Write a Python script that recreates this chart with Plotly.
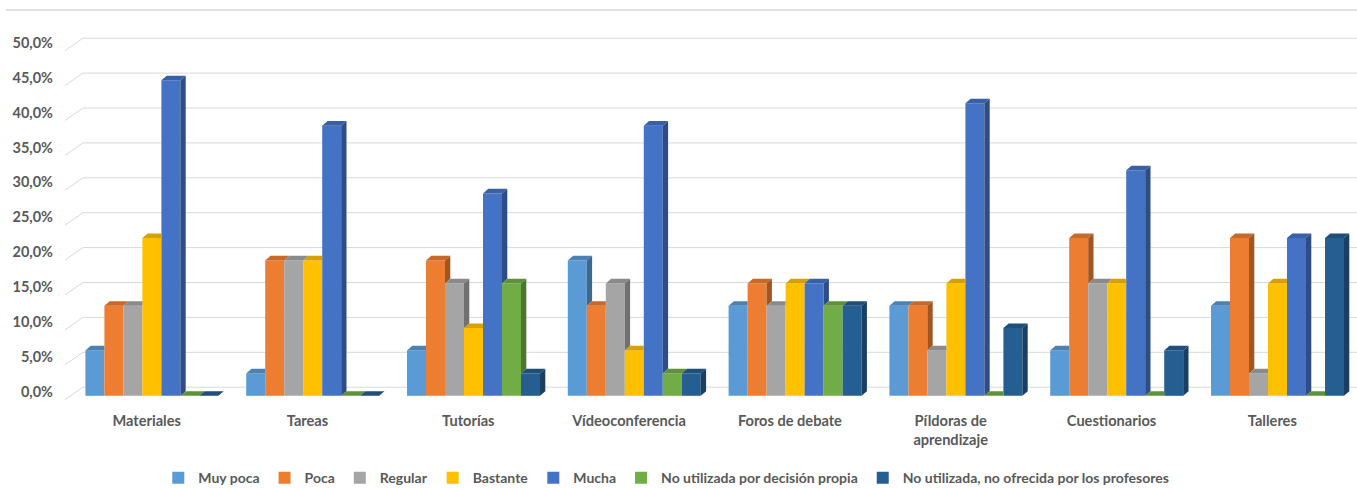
import numpy as np
import plotly.graph_objects as go

# ---- data -------------------------------------------------------------
categories = ["Materiales", "Tareas", "Tutorías", "Vídeoconferencia",
              "Foros de debate", "Píldoras de<br>aprendizaje",
              "Cuestionarios", "Talleres"]

series_names = ["Muy poca", "Poca", "Regular", "Bastante", "Mucha",
                "No utilizada por decisión propia",
                "No utilizada, no ofrecida por los profesores"]

muy_poca  = [6.5, 3.2, 6.5, 19.4, 12.9, 12.9, 6.5, 12.9]
poca      = [12.9, 19.4, 19.4, 12.9, 16.1, 12.9, 22.6, 22.6]
regular   = [12.9, 19.4, 16.1, 16.1, 12.9, 6.5, 16.1, 3.2]
bastante  = [22.6, 19.4, 9.7, 6.5, 16.1, 16.1, 16.1, 16.1]
mucha     = [45.2, 38.7, 29.0, 38.7, 16.1, 41.9, 32.3, 22.6]
no_propia = [0.0, 0.0, 16.1, 3.2, 12.9, 0.0, 0.0, 0.0]
no_ofrec  = [0.0, 0.0, 3.2, 3.2, 12.9, 9.7, 6.5, 22.6]

series_values = [muy_poca, poca, regular, bastante, mucha, no_propia, no_ofrec]

y_ticks = [0, 5, 10, 15, 20, 25, 30, 35, 40, 45, 50]
y_tick_labels = ["0,0%", "5,0%", "10,0%", "15,0%", "20,0%", "25,0%",
                 "30,0%", "35,0%", "40,0%", "45,0%", "50,0%"]

# ---- styling ----------------------------------------------------------
colors = ["#5B9BD5", "#ED7D31", "#A5A5A5", "#FFC000", "#4472C4", "#70AD47", "#255E91"]
FONT = "Lato"
TEXT_COLOR = "#595959"
GRID_COLOR = "#D9D9D9"

W, H = 1357, 488
M_L, M_R, M_T, M_B = 60, 0, 20, 88
SP = 160.8          # pixels per category
PXY = 6.98          # pixels per percentage point
FIRST_CENTER = 146.7
ZERO_PX = 395.8

x_lo = -(FIRST_CENTER - M_L) / SP
x_hi = x_lo + (W - M_L - M_R) / SP
plot_bottom = H - M_B
y_lo = -(plot_bottom - ZERO_PX) / PXY
y_hi = (ZERO_PX - M_T) / PXY

bar_w = 19.0 / SP             # bar width (category units)
n_ser = len(series_values)
group_w = n_ser * bar_w
shift = 5.2 / SP              # perspective drift of the cluster
depth_x = 5.3 / SP            # depth of the 3D extrusion
depth_y = 4.6 / PXY


def shade(hex_color, f):
    h = hex_color.lstrip("#")
    r, g, b = (int(h[i:i + 2], 16) for i in (0, 2, 4))
    return "#%02X%02X%02X" % (int(r * f), int(g * f), int(b * f))


positions = np.arange(len(categories))

fig = go.Figure()

# front faces
for i, (name, vals) in enumerate(zip(series_names, series_values)):
    fig.add_trace(go.Bar(
        x=positions, y=vals, name=name,
        width=bar_w, offset=-group_w / 2 + i * bar_w + shift,
        marker=dict(color=colors[i], line=dict(width=0)),
        hovertemplate="%{y:.1f}%<extra>" + name + "</extra>",
    ))

# top and side faces of each bar (occluded parts removed)
for i, vals in enumerate(series_values):
    nxt = series_values[i + 1] if i + 1 < n_ser else None
    tx, ty, sx, sy = [], [], [], []
    for k, v in enumerate(vals):
        x0 = k - group_w / 2 + i * bar_w + shift
        x1 = x0 + bar_w
        vn = nxt[k] if nxt is not None else 0.0
        c = min(max(vn, v), v + depth_y) if nxt is not None else v
        t = (c - v) / depth_y
        tx += [x0, x1, x1, x1 + depth_x * t, x1 + depth_x, x0 + depth_x, x0, None]
        ty += [v, v, c, c, v + depth_y, v + depth_y, v, None]
        if v > vn:
            sx += [x1, x1 + depth_x, x1 + depth_x, x1, x1, None]
            sy += [vn, vn + depth_y, v + depth_y, v, vn, None]
    fig.add_trace(go.Scatter(x=tx, y=ty, mode="lines", fill="toself",
                             fillcolor=shade(colors[i], 0.84),
                             line=dict(width=0, color=shade(colors[i], 0.84)),
                             hoverinfo="skip", showlegend=False))
    if sx:
        fig.add_trace(go.Scatter(x=sx, y=sy, mode="lines", fill="toself",
                                 fillcolor=shade(colors[i], 0.68),
                                 line=dict(width=0, color=shade(colors[i], 0.68)),
                                 hoverinfo="skip", showlegend=False))

# back-wall gridlines with the slanted side-wall segment
shapes = []
gx_front = x_lo + 5.0 / SP
gx_back = x_lo + 23.0 / SP
for t in y_ticks:
    yf = t - 3.8 / PXY
    yb = t + 8.6 / PXY
    shapes.append(dict(
        type="path", xref="x", yref="y", layer="below",
        path=f"M {gx_front},{yf} L {gx_back},{yb} L {x_hi},{yb}",
        line=dict(color=GRID_COLOR, width=1),
    ))
# chart area top border
shapes.append(dict(type="line", xref="paper", yref="paper",
                   x0=(6 - M_L) / (W - M_L - M_R), x1=1,
                   y0=(plot_bottom - 10) / (plot_bottom - M_T),
                   y1=(plot_bottom - 10) / (plot_bottom - M_T),
                   line=dict(color=GRID_COLOR, width=1.5)))

fig.update_layout(
    width=W, height=H,
    margin=dict(l=M_L, r=M_R, t=M_T, b=M_B),
    paper_bgcolor="white", plot_bgcolor="white",
    barmode="overlay",
    font=dict(family=FONT, color=TEXT_COLOR, size=14),
    shapes=shapes,
    xaxis=dict(range=[x_lo, x_hi], tickmode="array", tickvals=positions,
               ticktext=categories, showgrid=False, zeroline=False,
               showline=False, ticks="", ticklabelstandoff=10,
               tickfont=dict(family=FONT, size=14.6, color=TEXT_COLOR, weight="bold")),
    yaxis=dict(range=[y_lo, y_hi], tickmode="array", tickvals=y_ticks,
               ticktext=y_tick_labels, showgrid=False, zeroline=False,
               showline=False, ticks="", ticklabelshift=-4,
               ticklabelstandoff=6,
               tickfont=dict(family=FONT, size=14.5, color=TEXT_COLOR, weight="bold")),
    legend=dict(orientation="h", xref="container", yref="container",
                x=0.491, xanchor="center", y=0.02, yanchor="middle",
                font=dict(family=FONT, size=14, color=TEXT_COLOR, weight="bold"),
                itemclick=False, itemdoubleclick=False),
    showlegend=True,
)

fig.write_html("out.html")
